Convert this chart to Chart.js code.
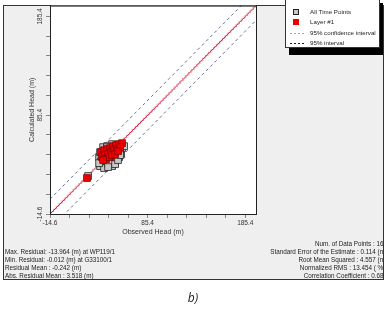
<!DOCTYPE html>
<html lang="en">
<head>
    <meta charset="UTF-8">
    <title>Calculated vs Observed Head</title>
    <script src="https://cdn.jsdelivr.net/npm/chart.js"></script>
    <style>
        body { margin: 0; background: #fff; }
        canvas { display: block; }
    </style>
</head>
<body>
    <canvas id="headChart" width="388" height="314"></canvas>

    <script>
        // Axis range and ticks (metres)
        const axisMin = -14.6;
        const axisMax = 196.4;
        const tickValues = [-14.6, 5.4, 25.4, 45.4, 65.4, 85.4, 105.4, 125.4, 145.4, 165.4, 185.4];
        const tickLabels = ['-14.6', '', '', '', '', '85.4', '', '', '', '', '185.4'];

        // All Time Points: observed / calculated
        const allObserved = [24.4, 36.7, 40.8, 44.9, 49.0, 52.1, 54.1, 56.2, 58.2, 39.8, 43.9, 49.0, 55.1, 59.2,
                             35.7, 37.7, 46.9, 50.0, 53.1, 57.2, 61.3, 42.8, 45.9, 35.7, 44.9, 52.1, 55.1, 57.2, 36.7, 43.9];
        const allCalculated = [23.8, 33.9, 31.9, 35.9, 33.9, 37.9, 41.0, 43.0, 46.0, 53.1, 54.1, 56.1, 55.1, 52.1,
                               43.0, 38.9, 42.0, 50.0, 48.0, 50.0, 54.1, 47.0, 37.9, 36.9, 32.9, 35.9, 40.0, 45.0, 48.0, 53.1];

        // Layer #1: observed / calculated
        const layerObserved = [23.3, 37.7, 40.8, 43.9, 46.9, 50.0, 53.1, 56.2, 59.2, 38.7, 41.8, 44.9, 48.0, 51.0,
                               54.1, 57.2, 42.8, 45.9, 39.8, 49.0, 52.1, 55.1];
        const layerCalculated = [21.8, 48.0, 50.0, 51.1, 52.1, 54.1, 55.1, 56.1, 57.1, 43.0, 45.0, 46.0, 48.0, 50.0,
                                 51.1, 53.1, 41.0, 43.0, 40.0, 45.0, 46.0, 49.0];

        // Reference lines: offsets from the 1:1 line
        const lineEnds = [-14.6, 196.4];
        const confidenceOffset = 1.2;
        const intervalOffset = 15;

        const legendLabels = ['All Time Points', 'Layer #1', '95% confidence interval', '95% interval'];
        const leftStats = ['Max. Residual: -13.964 (m) at WP119/1', 'Min. Residual: -0.012 (m) at G33100/1',
                           'Residual Mean : -0.242 (m)', 'Abs. Residual Mean : 3.518 (m)'];
        const rightStats = ['Num. of Data Points : 160', 'Standard Error of the Estimate : 0.114 (m)',
                            'Root Mean Squared : 4.557 (m)', 'Normalized RMS : 13.454 ( % )',
                            'Correlation Coefficient : 0.681'];

        const FONT = '"Liberation Sans", Arial, sans-serif';

        function pairs(xs, ys) {
            return xs.map((x, i) => ({ x: x, y: ys[i] }));
        }
        function offsetLine(off) {
            return lineEnds.map(v => ({ x: v, y: v + off }));
        }
        function lineSet(data, color, dash, order) {
            return { data: data, showLine: true, pointRadius: 0, borderColor: color, borderWidth: 1,
                     borderDash: dash, order: order };
        }

        // frame, panel background, legend and statistics text
        const framePlugin = {
            id: 'frame',
            beforeDraw(chart) {
                const ctx = chart.ctx;
                const a = chart.chartArea;
                ctx.save();
                ctx.fillStyle = '#ffffff';
                ctx.fillRect(0, 0, chart.width, chart.height);
                ctx.fillStyle = '#efefef';
                ctx.fillRect(3, 5, 380, 274);
                ctx.strokeStyle = '#333';
                ctx.lineWidth = 1;
                ctx.strokeRect(3.5, 5.5, 380, 274);
                ctx.fillStyle = '#ffffff';
                ctx.fillRect(a.left, a.top, a.right - a.left, a.bottom - a.top);
                ctx.restore();
            },
            afterDraw(chart) {
                const ctx = chart.ctx;
                const a = chart.chartArea;
                ctx.save();
                ctx.strokeStyle = '#222';
                ctx.lineWidth = 1;
                ctx.strokeRect(a.left + 0.5, a.top + 0.5, a.right - a.left, a.bottom - a.top);

                // legend with shadow
                ctx.fillStyle = '#000';
                ctx.fillRect(289, 3, 94, 52);
                ctx.fillStyle = '#fff';
                ctx.fillRect(285, -2, 94, 50);
                ctx.strokeStyle = '#333';
                ctx.strokeRect(285.5, -1.5, 94, 49);

                ctx.font = '6.2px ' + FONT;
                ctx.textBaseline = 'middle';
                ctx.textAlign = 'left';
                const rows = [12, 22, 33, 43];
                // markers
                ctx.fillStyle = '#c8c8c8';
                ctx.fillRect(293, rows[0] - 3, 6, 6);
                ctx.strokeStyle = '#222';
                ctx.strokeRect(293.5, rows[0] - 2.5, 5, 5);
                ctx.fillStyle = '#ee0000';
                ctx.fillRect(293, rows[1] - 3, 6, 6);
                ctx.lineWidth = 1;
                ctx.setLineDash([2, 2]);
                ctx.strokeStyle = '#f08090';
                ctx.beginPath(); ctx.moveTo(290, rows[2] + 0.5); ctx.lineTo(304, rows[2] + 0.5); ctx.stroke();
                ctx.strokeStyle = '#101050';
                ctx.beginPath(); ctx.moveTo(290, rows[3] + 0.5); ctx.lineTo(304, rows[3] + 0.5); ctx.stroke();
                ctx.setLineDash([]);
                ctx.fillStyle = '#222';
                legendLabels.forEach((t, i) => ctx.fillText(t, 310, rows[i]));

                // statistics
                ctx.font = '6.3px ' + FONT;
                leftStats.forEach((t, i) => ctx.fillText(t, 5, 252 + i * 8));
                ctx.beginPath();
                ctx.rect(3, 5, 380, 274);
                ctx.clip();
                ctx.textAlign = 'right';
                rightStats.forEach((t, i) => ctx.fillText(t, 387, 244 + i * 8));
                ctx.restore();

                ctx.save();
                ctx.fillStyle = '#222';
                ctx.font = 'italic 12px "Open Sans", sans-serif';
                ctx.textAlign = 'center';
                ctx.textBaseline = 'middle';
                ctx.fillText('b)', 193, 299);
                ctx.restore();
            }
        };

        function axisOptions(isY) {
            const opts = {
                type: 'linear',
                min: axisMin,
                max: axisMax,
                afterBuildTicks: scale => { scale.ticks = tickValues.map(v => ({ value: v })); },
                grid: { display: true, drawOnChartArea: false, drawTicks: true, tickLength: 4, color: '#888' },
                border: { display: true, color: '#222' },
                ticks: {
                    autoSkip: false,
                    color: '#333',
                    font: { family: FONT, size: 6.5 },
                    callback: (value, index) => tickLabels[index]
                },
                title: {
                    display: true,
                    color: '#333',
                    font: { family: FONT, size: 7 },
                    text: isY ? 'Calculated Head (m)' : 'Observed Head (m)'
                }
            };
            if (isY) {
                opts.ticks.minRotation = 90;
                opts.ticks.maxRotation = 90;
                opts.ticks.crossAlign = 'center';
                opts.ticks.padding = -2;
                opts.title.padding = { top: 28, bottom: 0 };
                opts.afterFit = scale => { scale.width = 50; };
            } else {
                opts.ticks.maxRotation = 0;
                opts.ticks.padding = 1;
                opts.title.padding = { top: 0, bottom: 8 };
                opts.afterFit = scale => { scale.height = 30; };
            }
            return opts;
        }

        new Chart(document.getElementById('headChart'), {
            type: 'scatter',
            data: {
                datasets: [
                    { label: 'Layer #1', data: pairs(layerObserved, layerCalculated), pointStyle: 'rect',
                      pointRadius: 4.8, backgroundColor: '#ee0000', borderColor: '#8a0000', borderWidth: 0.8, order: 0 },
                    { label: 'All Time Points', data: pairs(allObserved, allCalculated), pointStyle: 'rect',
                      pointRadius: 4.8, backgroundColor: '#c8c8c8', borderColor: '#222', borderWidth: 0.8, order: 1 },
                    lineSet(offsetLine(0), '#cc2040', [], 3),
                    lineSet(offsetLine(confidenceOffset), '#f08090', [2, 2], 2),
                    lineSet(offsetLine(-confidenceOffset), '#f08090', [2, 2], 2),
                    lineSet(offsetLine(intervalOffset), '#66709a', [3, 3], 2),
                    lineSet(offsetLine(-intervalOffset), '#66709a', [3, 3], 2)
                ]
            },
            options: {
                responsive: false,
                animation: false,
                devicePixelRatio: 1,
                layout: { padding: { left: 0, top: 5, right: 132, bottom: 70 } },
                plugins: { legend: { display: false }, tooltip: { enabled: false } },
                elements: { point: { hoverRadius: 4.8 } },
                scales: {
                    x: axisOptions(false),
                    y: axisOptions(true)
                }
            },
            plugins: [framePlugin]
        });
    </script>
</body>
</html>
